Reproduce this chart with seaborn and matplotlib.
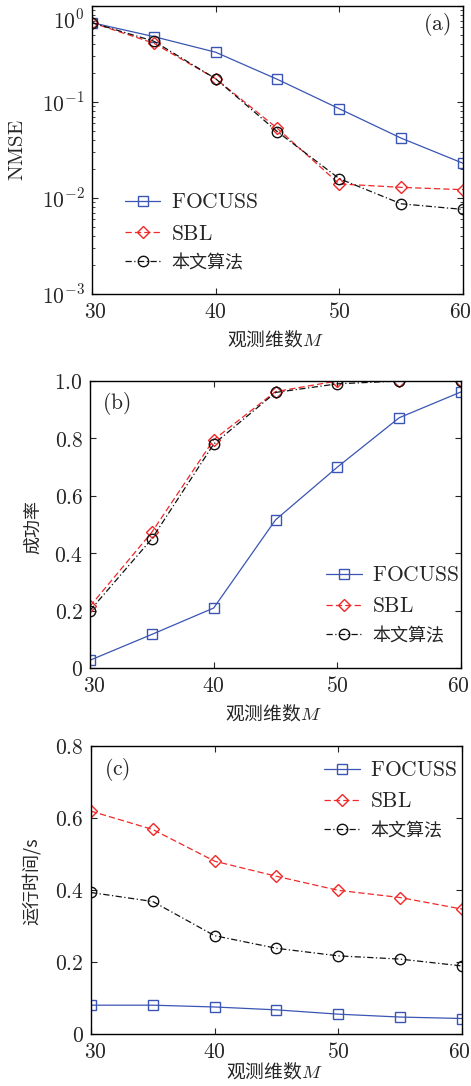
import numpy as np
import seaborn as sns
import matplotlib
matplotlib.use('Agg')
import matplotlib.pyplot as plt
from matplotlib.ticker import FuncFormatter, LogLocator, NullFormatter
from matplotlib.transforms import ScaledTranslation

# observation dimension M
m_vals = [30, 35, 40, 45, 50, 55, 60]
methods = ['FOCUSS', 'SBL', '本文算法']

# (a) NMSE (log scale)
nmse_focuss = [0.67, 0.48, 0.33, 0.172, 0.085, 0.042, 0.023]
nmse_sbl = [0.67, 0.41, 0.175, 0.053, 0.014, 0.0129, 0.0122]
nmse_ours = [0.67, 0.43, 0.175, 0.049, 0.0159, 0.0087, 0.0076]

# (b) success rate
succ_focuss = [0.027, 0.117, 0.209, 0.516, 0.70, 0.872, 0.962]
succ_sbl = [0.215, 0.473, 0.795, 0.963, 1.0, 1.0, 1.0]
succ_ours = [0.20, 0.45, 0.78, 0.96, 0.99, 1.0, 1.0]

# (c) running time / s
time_focuss = [0.080, 0.080, 0.075, 0.067, 0.055, 0.047, 0.043]
time_sbl = [0.619, 0.568, 0.480, 0.438, 0.399, 0.379, 0.347]
time_ours = [0.393, 0.368, 0.273, 0.238, 0.217, 0.208, 0.189]

sns.set_style('ticks')
plt.rcParams['font.family'] = ['DejaVu Serif', 'Noto Sans CJK SC']
plt.rcParams['mathtext.fontset'] = 'cm'
plt.rcParams['axes.unicode_minus'] = False

colors = {'FOCUSS': '#3a55b4', 'SBL': '#f02828', '本文算法': '#111111'}
marks = {'FOCUSS': 's', 'SBL': 'D', '本文算法': 'o'}
lstyles = {'FOCUSS': '-', 'SBL': (0, (5, 2.5)), '本文算法': (0, (5, 2, 1, 2))}
msizes = {'FOCUSS': 7, 'SBL': 6, '本文算法': 7.5}
labels = {'FOCUSS': r'$\mathrm{FOCUSS}$', 'SBL': r'$\mathrm{SBL}$', '本文算法': '本文算法'}

FS = 15.5     # ticks, legend, panel tags
LFS = 13      # CJK axis labels
CJK = 'Noto Sans CJK SC'

fig = plt.figure(figsize=(4.71, 10.86), dpi=100)
ax_a = fig.add_axes([0.195, 0.7293, 0.788, 0.2652])
ax_b = fig.add_axes([0.191, 0.3849, 0.788, 0.2643])
ax_c = fig.add_axes([0.193, 0.0479, 0.788, 0.2652])


def draw_series(ax, series):
    for name, vals in zip(methods, series):
        sns.lineplot(x=m_vals, y=vals, ax=ax, color=colors[name],
                     marker=marks[name], markersize=msizes[name],
                     markerfacecolor='none', markeredgecolor=colors[name],
                     markeredgewidth=1.0, linewidth=0.9,
                     linestyle=lstyles[name], label=labels[name])


def nudge(tick, dx, dy):
    # shift one tick label by a few pixels
    tick.label1.set_transform(tick.label1.get_transform() +
                              ScaledTranslation(dx / 100, dy / 100, fig.dpi_scale_trans))


def style_axes(ax, xlab_y):
    ax.set_xlim(30, 60)
    ax.set_xticks([30, 40, 50, 60])
    ax.xaxis.set_major_formatter(FuncFormatter(lambda v, p: f'${v:.0f}$'))
    ax.tick_params(which='both', direction='in', top=True, right=True,
                   labelsize=FS, pad=5)
    ax.tick_params(which='major', length=4, width=0.8)
    ax.tick_params(which='minor', length=2.5, width=0.6)
    for sp in ax.spines.values():
        sp.set_linewidth(1.0)
        sp.set_color('black')
    ax.set_xlabel('观测维数$M$', fontsize=13.5, family=CJK)
    ax.xaxis.set_label_coords(0.493, xlab_y)
    xt = ax.xaxis.get_major_ticks()
    nudge(xt[0], 4, 0)
    nudge(xt[-1], -3, 0)


def put_legend(ax, x, y):
    leg = ax.legend(loc='center left', bbox_to_anchor=(x, y), frameon=False,
                    fontsize=FS, handlelength=1.65, labelspacing=0.42,
                    handletextpad=0.5, borderpad=0, borderaxespad=0)
    for t in leg.get_texts():
        if '本文' in t.get_text():
            t.set_fontsize(13)


def lin_fmt(v, p):
    if abs(v) < 1e-9:
        return '$0$'
    return f'${v:.1f}$'


# (a)
draw_series(ax_a, [nmse_focuss, nmse_sbl, nmse_ours])
ax_a.set_yscale('log')
ax_a.set_ylim(1e-3, 1)
ax_a.set_yticks([1e-3, 1e-2, 1e-1, 1])
ax_a.yaxis.set_minor_locator(LogLocator(base=10, subs=np.arange(2, 10), numticks=20))
ax_a.yaxis.set_minor_formatter(NullFormatter())
ax_a.yaxis.set_major_formatter(FuncFormatter(lambda v, p: f'$10^{{{int(round(np.log10(v)))}}}$'))
style_axes(ax_a, -0.125)
nudge(ax_a.yaxis.get_major_ticks()[-1], 0, -13)
ax_a.set_ylabel(r'$\mathrm{NMSE}$', fontsize=15)
ax_a.yaxis.set_label_coords(-0.175, 0.5)
ax_a.text(0.93, 0.934, r'$(\mathrm{a})$', transform=ax_a.transAxes, fontsize=FS,
          ha='center', va='center')
put_legend(ax_a, 0.089, 0.215)

# (b)
draw_series(ax_b, [succ_focuss, succ_sbl, succ_ours])
ax_b.set_ylim(0, 1.0)
ax_b.set_yticks([0, 0.2, 0.4, 0.6, 0.8, 1.0])
ax_b.yaxis.set_major_formatter(FuncFormatter(lin_fmt))
style_axes(ax_b, -0.125)
ax_b.set_ylabel('成功率', fontsize=LFS, family=CJK)
ax_b.yaxis.set_label_coords(-0.129, 0.49)
ax_b.text(0.07, 0.923, r'$(\mathrm{b})$', transform=ax_b.transAxes, fontsize=FS,
          ha='center', va='center')
put_legend(ax_b, 0.636, 0.22)

# (c)
draw_series(ax_c, [time_focuss, time_sbl, time_ours])
ax_c.set_ylim(0, 0.8)
ax_c.set_yticks([0, 0.2, 0.4, 0.6, 0.8])
ax_c.yaxis.set_major_formatter(FuncFormatter(lin_fmt))
style_axes(ax_c, -0.10)
ax_c.set_ylabel('运行时间/s', fontsize=LFS, family=CJK)
ax_c.yaxis.set_label_coords(-0.135, 0.53)
ax_c.text(0.07, 0.917, r'$(\mathrm{c})$', transform=ax_c.transAxes, fontsize=FS,
          ha='center', va='center')
put_legend(ax_c, 0.628, 0.8125)

fig.savefig('out.png', dpi=100)
